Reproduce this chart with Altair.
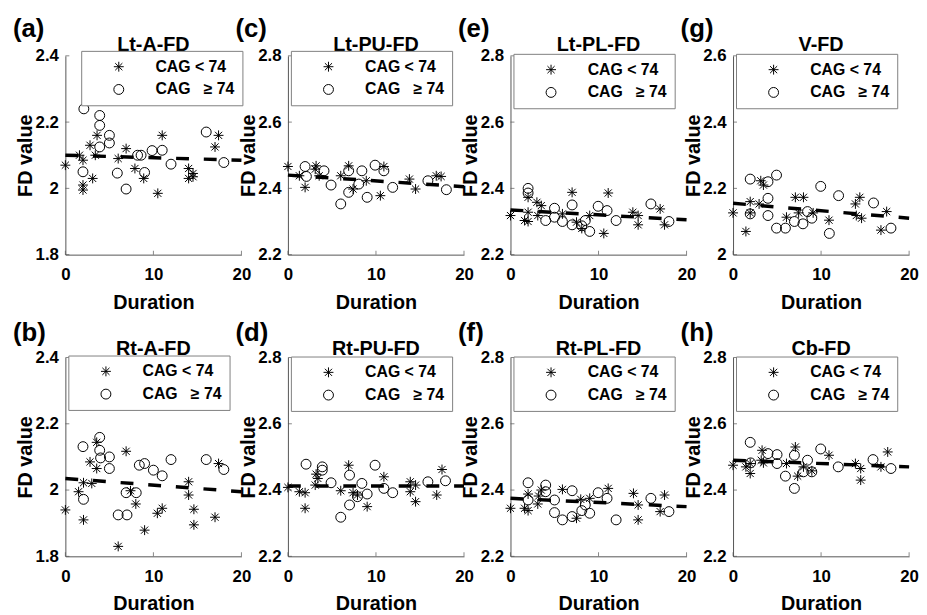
import altair as alt
import pandas as pd

FONT = "Liberation Sans"
STAR = "M0,-1L0,1M-1,0L1,0M-0.72,-0.72L0.72,0.72M-0.72,0.72L0.72,-0.72"
G1 = "CAG < 74"
G2 = "CAG\u00a0\u00a0\u00a0\u2265 74"

fit_x = [0, 20]
x_ticks = [0, 10, 20]

# (a) Lt-A-FD
a_star_x = [0, 1.6, 2.0, 2.0, 2.0, 3.1, 2.8, 3.6, 3.4, 6.0, 6.9, 7.9, 8.9, 10.5, 11.0, 14.0, 14.0, 14.5, 14.5, 17.0, 17.4]
a_star_y = [2.07, 2.10, 2.085, 2.01, 1.995, 2.03, 2.13, 2.16, 2.10, 2.09, 2.12, 2.06, 2.03, 1.985, 2.16, 2.06, 2.03, 2.045, 2.035, 2.125, 2.16]
a_circ_x = [2.1, 2.0, 3.9, 3.9, 3.9, 5.0, 5.0, 5.9, 6.9, 8.2, 8.6, 9.0, 9.85, 11.0, 12.0, 16.0, 18.0]
a_circ_y = [2.24, 2.05, 2.22, 2.19, 2.125, 2.16, 2.137, 2.046, 1.998, 2.10, 2.10, 2.048, 2.114, 2.115, 2.073, 2.17, 2.078]
a_fit = [2.10, 2.085]

# (b) Rt-A-FD
b_star_x = [0, 1.5, 2.06, 2.06, 3.0, 2.8, 3.56, 3.56, 6.0, 6.9, 7.4, 8.0, 9.0, 10.45, 11.0, 14.0, 14.0, 14.6, 14.6, 17.0, 17.4]
b_star_y = [1.94, 1.995, 1.91, 2.022, 2.02, 2.085, 2.144, 2.065, 1.83, 2.117, 1.998, 1.958, 1.879, 1.93, 1.945, 2.025, 1.985, 1.942, 1.895, 1.918, 2.08]
b_circ_x = [2.0, 2.06, 3.9, 3.9, 4.0, 5.0, 5.0, 6.0, 7.0, 6.9, 8.05, 8.4, 9.0, 10.0, 11.0, 12.0, 16.0, 18.0]
b_circ_y = [2.131, 1.972, 2.159, 2.12, 2.097, 2.10, 2.065, 1.925, 1.925, 1.992, 1.992, 2.075, 2.08, 2.06, 2.043, 2.092, 2.092, 2.062]
b_fit = [2.035, 1.995]

# (c) Lt-PU-FD
c_star_x = [0, 1.3, 1.95, 3.1, 3.2, 3.55, 6.0, 6.9, 7.4, 8.9, 10.5, 10.9, 13.8, 14.5, 16.85, 17.4]
c_star_y = [2.466, 2.438, 2.403, 2.458, 2.468, 2.438, 2.438, 2.468, 2.398, 2.423, 2.378, 2.466, 2.428, 2.398, 2.438, 2.436]
c_circ_x = [1.95, 2.1, 4.1, 4.9, 6.0, 6.9, 6.9, 8.05, 8.4, 9.0, 9.9, 10.9, 11.9, 15.9, 18.0]
c_circ_y = [2.466, 2.436, 2.453, 2.41, 2.353, 2.388, 2.453, 2.413, 2.453, 2.373, 2.47, 2.453, 2.403, 2.423, 2.396]
c_fit = [2.44, 2.405]

# (d) Rt-PU-FD
d_star_x = [0, 1.3, 1.95, 1.95, 3.2, 3.4, 3.1, 6.0, 6.9, 7.4, 7.9, 9.0, 10.9, 13.9, 13.9, 14.5, 14.5, 16.9, 17.5]
d_star_y = [2.408, 2.395, 2.392, 2.345, 2.448, 2.435, 2.415, 2.398, 2.475, 2.392, 2.385, 2.35, 2.44, 2.425, 2.395, 2.415, 2.365, 2.385, 2.462]
d_circ_x = [2.06, 3.9, 3.9, 4.9, 6.0, 7.0, 7.0, 7.9, 8.4, 9.0, 9.9, 10.9, 11.9, 15.9, 17.9]
d_circ_y = [2.478, 2.47, 2.46, 2.422, 2.318, 2.355, 2.445, 2.38, 2.42, 2.388, 2.475, 2.405, 2.392, 2.425, 2.428]
d_fit = [2.412, 2.412]

# (e) Lt-PL-FD
e_star_x = [0, 1.6, 2.0, 2.0, 2.0, 3.0, 3.5, 3.1, 5.9, 7.0, 7.5, 8.1, 9.0, 10.6, 11.1, 13.9, 14.5, 14.5, 17.0, 17.5]
e_star_y = [2.318, 2.303, 2.30, 2.373, 2.328, 2.358, 2.348, 2.318, 2.323, 2.388, 2.298, 2.279, 2.318, 2.264, 2.386, 2.328, 2.29, 2.318, 2.338, 2.29]
e_circ_x = [2.0, 2.0, 4.0, 5.0, 5.0, 5.9, 7.0, 7.0, 8.1, 8.5, 9.0, 9.96, 10.97, 12.0, 15.95, 18.0]
e_circ_y = [2.40, 2.386, 2.303, 2.34, 2.313, 2.30, 2.35, 2.29, 2.287, 2.303, 2.27, 2.346, 2.333, 2.303, 2.353, 2.30]
e_fit = [2.335, 2.305]

# (f) Rt-PL-FD
f_star_x = [0, 1.6, 2.0, 2.0, 3.1, 3.2, 3.5, 5.9, 7.5, 7.98, 9.0, 11.1, 13.97, 14.5, 14.5, 17.0, 17.5]
f_star_y = [2.345, 2.345, 2.388, 2.338, 2.358, 2.382, 2.40, 2.402, 2.315, 2.372, 2.375, 2.405, 2.39, 2.355, 2.31, 2.335, 2.385]
f_circ_x = [2.0, 2.0, 4.0, 4.0, 5.0, 5.0, 5.9, 7.0, 7.0, 8.1, 8.5, 9.0, 9.96, 10.97, 12.0, 15.95, 18.0]
f_circ_y = [2.422, 2.37, 2.415, 2.395, 2.37, 2.332, 2.31, 2.398, 2.32, 2.338, 2.355, 2.33, 2.392, 2.375, 2.31, 2.375, 2.335]
f_fit = [2.375, 2.35]

# (g) V-FD
g_star_x = [0, 1.46, 1.95, 1.95, 2.96, 3.15, 3.45, 6.07, 7.08, 8.0, 7.45, 9.1, 10.9, 13.9, 14.0, 14.4, 14.6, 16.8, 17.45]
g_star_y = [2.126, 2.07, 2.16, 2.126, 2.153, 2.223, 2.21, 2.113, 2.173, 2.173, 2.126, 2.126, 2.104, 2.153, 2.118, 2.173, 2.11, 2.074, 2.13]
g_circ_x = [1.95, 1.95, 3.97, 3.97, 3.97, 4.94, 4.94, 5.95, 6.97, 7.94, 8.46, 8.95, 9.96, 10.94, 11.99, 15.96, 17.94]
g_circ_y = [2.228, 2.123, 2.22, 2.17, 2.118, 2.24, 2.08, 2.08, 2.10, 2.093, 2.13, 2.11, 2.206, 2.064, 2.178, 2.156, 2.08]
g_fit = [2.155, 2.11]

# (h) Cb-FD
h_star_x = [0, 1.46, 1.95, 1.95, 3.2, 3.3, 3.45, 6.07, 7.08, 7.34, 8.0, 8.95, 10.9, 13.9, 14.5, 14.5, 16.8, 17.57]
h_star_y = [2.475, 2.47, 2.45, 2.48, 2.49, 2.52, 2.482, 2.48, 2.53, 2.442, 2.47, 2.458, 2.505, 2.48, 2.465, 2.43, 2.47, 2.515]
h_circ_x = [1.95, 2.0, 3.97, 5.0, 5.0, 5.95, 6.97, 6.97, 8.0, 8.46, 8.95, 9.96, 11.95, 15.9, 17.94]
h_circ_y = [2.544, 2.482, 2.51, 2.507, 2.48, 2.442, 2.405, 2.505, 2.455, 2.49, 2.455, 2.524, 2.47, 2.492, 2.465]
h_fit = [2.49, 2.47]

panels = [
    dict(key="a", title="Lt-A-FD", ydom=[1.8, 2.4], yt=[1.8, 2.0, 2.2, 2.4], sx=a_star_x, sy=a_star_y, cx=a_circ_x, cy=a_circ_y, fit=a_fit, row=0, leg=(16, -5)),
    dict(key="c", title="Lt-PU-FD", ydom=[2.2, 2.8], yt=[2.2, 2.4, 2.6, 2.8], sx=c_star_x, sy=c_star_y, cx=c_circ_x, cy=c_circ_y, fit=c_fit, row=0, leg=(3, -5)),
    dict(key="e", title="Lt-PL-FD", ydom=[2.2, 2.8], yt=[2.2, 2.4, 2.6, 2.8], sx=e_star_x, sy=e_star_y, cx=e_circ_x, cy=e_circ_y, fit=e_fit, row=0, leg=(3, -2)),
    dict(key="g", title="V-FD", ydom=[2.0, 2.6], yt=[2.0, 2.2, 2.4, 2.6], sx=g_star_x, sy=g_star_y, cx=g_circ_x, cy=g_circ_y, fit=g_fit, row=0, leg=(3, -2)),
    dict(key="b", title="Rt-A-FD", ydom=[1.8, 2.4], yt=[1.8, 2.0, 2.2, 2.4], sx=b_star_x, sy=b_star_y, cx=b_circ_x, cy=b_circ_y, fit=b_fit, row=1, leg=(3, -2)),
    dict(key="d", title="Rt-PU-FD", ydom=[2.2, 2.8], yt=[2.2, 2.4, 2.6, 2.8], sx=d_star_x, sy=d_star_y, cx=d_circ_x, cy=d_circ_y, fit=d_fit, row=1, leg=(3, -1)),
    dict(key="f", title="Rt-PL-FD", ydom=[2.2, 2.8], yt=[2.2, 2.4, 2.6, 2.8], sx=f_star_x, sy=f_star_y, cx=f_circ_x, cy=f_circ_y, fit=f_fit, row=1, leg=(3, -1)),
    dict(key="h", title="Cb-FD", ydom=[2.2, 2.8], yt=[2.2, 2.4, 2.6, 2.8], sx=h_star_x, sy=h_star_y, cx=h_circ_x, cy=h_circ_y, fit=h_fit, row=1, leg=(3, -1)),
]

W, H = 178, 201
AXIS_COLOR = "#555555"


def make_panel(p):
    pts = pd.DataFrame({
        "Duration": p["sx"] + p["cx"],
        "FD": p["sy"] + p["cy"],
        "group": [G1] * len(p["sx"]) + [G2] * len(p["cx"]),
    })
    fit = pd.DataFrame({"Duration": fit_x, "FD": p["fit"]})
    lab = pd.DataFrame({"lab": ["(" + p["key"] + ")"], "ttl": [p["title"]]})
    xt = pd.DataFrame({"Duration": x_ticks})
    yt = pd.DataFrame({"FD": p["yt"]})
    xs = alt.Scale(domain=[0, 20], nice=False, zero=False)
    ys = alt.Scale(domain=p["ydom"], nice=False, zero=False)
    xaxis = alt.Axis(values=x_ticks, title="Duration", labelFlush=False,
                     labelOverlap=False, labelPadding=12, titleY=54,
                     titleBaseline="alphabetic")
    yaxis = alt.Axis(values=p["yt"], format="~g", title="FD value",
                     labelPadding=7, labelOverlap=False, labelFlush=False,
                     titleX=-34, titleY=H / 2, titleBaseline="alphabetic")
    lx, ly = p["leg"]
    legend = alt.Legend(
        title=None, orient="none", legendX=lx, legendY=ly,
        strokeColor="#808080", fillColor="white", padding=8,
        symbolOffset=22, labelOffset=29, rowPadding=7,
        labelFont=FONT, labelFontSize=16, labelFontWeight="bold",
        labelColor="black", symbolSize=100, symbolStrokeWidth=1,
        symbolStrokeColor="black", labelLimit=200,
    )
    points = alt.Chart(pts).mark_point(
        filled=False, color="black", size=100, strokeWidth=1, opacity=1
    ).encode(
        x=alt.X("Duration:Q", scale=xs, axis=xaxis),
        y=alt.Y("FD:Q", scale=ys, axis=yaxis),
        shape=alt.Shape("group:N",
                        scale=alt.Scale(domain=[G1, G2], range=[STAR, "circle"]),
                        legend=legend),
    )
    line = alt.Chart(fit).mark_line(
        color="black", strokeWidth=3.5, strokeDash=[13, 15]
    ).encode(
        x=alt.X("Duration:Q", scale=xs),
        y=alt.Y("FD:Q", scale=ys),
    )
    # small inward tick marks (MATLAB style)
    xtick = alt.Chart(xt).mark_tick(
        color=AXIS_COLOR, thickness=1, size=4, orient="vertical"
    ).encode(x=alt.X("Duration:Q", scale=xs), y=alt.value(H - 2))
    ytick = alt.Chart(yt).mark_tick(
        color=AXIS_COLOR, thickness=1, size=4, orient="horizontal"
    ).encode(y=alt.Y("FD:Q", scale=ys), x=alt.value(2))
    dy = -19 if p["row"] == 0 else -17
    toff = -5 if p["row"] == 0 else -3
    label = alt.Chart(lab).mark_text(
        align="left", baseline="alphabetic", font=FONT, fontSize=26,
        fontWeight="bold", color="black"
    ).encode(x=alt.value(-53), y=alt.value(dy), text="lab:N")
    title = alt.Chart(lab).mark_text(
        align="center", baseline="alphabetic", font=FONT, fontSize=20,
        fontWeight="bold", color="black"
    ).encode(x=alt.value(W / 2), y=alt.value(toff), text="ttl:N")
    return alt.layer(points, line, xtick, ytick, title, label).properties(width=W, height=H)


charts = [make_panel(p) for p in panels]

chart = alt.concat(
    *charts, columns=4, spacing={"row": 104, "column": 47}, bounds="flush"
).resolve_scale(
    x="independent", y="independent", shape="independent"
).resolve_legend(shape="independent").configure_view(
    stroke="transparent"
).configure_axis(
    domainColor=AXIS_COLOR, domainWidth=1, ticks=False, grid=False,
    labelFont=FONT, labelFontSize=17, labelFontWeight="bold", labelColor="black",
    titleFont=FONT, titleFontSize=20, titleFontWeight="bold", titleColor="black",
).properties(
    padding={"left": 4, "top": 4, "right": 0, "bottom": 0},
    background="white",
)

chart.save("out.html", embed_options={"renderer": "svg", "actions": False})
